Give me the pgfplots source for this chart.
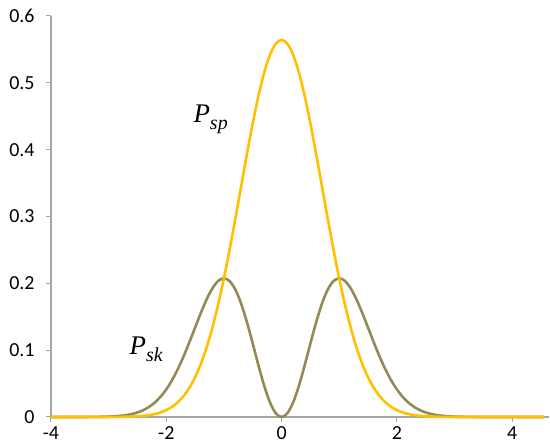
\documentclass[border=0pt]{standalone}
\usepackage{fontspec}
\setmainfont{Carlito}
\newfontfamily\lserif{Liberation Serif}
\usepackage{pgfplots}
\pgfplotsset{compat=1.18}
\definecolor{psp}{HTML}{FFC000}
\definecolor{psk}{HTML}{948A54}
\definecolor{axgray}{HTML}{A6A6A6}
\newcommand{\lab}[1]{{\lserif\itshape\fontsize{27}{32}\selectfont P\raisebox{-7bp}{\fontsize{20}{24}\selectfont #1}}}
\begin{document}
\begin{tikzpicture}
\begin{axis}[
  scale only axis,
  width=498bp, height=401bp,
  xmin=-4, xmax=4.64, ymin=0, ymax=0.6,
  axis x line=bottom, axis y line=left,
  axis line style={axgray, line width=1.2bp, -},
  xtick={-4,-2,0,2,4},
  ytick={0,0.1,0.2,0.3,0.4,0.5,0.6},
  yticklabels={0,0.1,0.2,0.3,0.4,0.5,0.6},
  xticklabels={-4,-2,0,2,4},
  tick align=outside,
  major tick length=5bp,
  tick style={axgray, line width=1bp},
  tick label style={font=\fontsize{20}{24}\selectfont, text=black},
  yticklabel style={xshift=-8bp},
  xticklabel style={yshift=-1bp},
  /pgf/number format/assume math mode=true,
  clip=false,
]
\addplot[psk, line width=2.6bp, smooth] coordinates {
(-4.0,0) (-3.5,0) (-3.2,0.0002) (-3.0,0.00063) (-2.9,0.00109) (-2.8,0.00172) (-2.7,0.00277) (-2.6,0.00439) (-2.5,0.00681)
(-2.4,0.01025) (-2.3,0.01502) (-2.2,0.02159) (-2.1,0.03025) (-2.0,0.04132) (-1.9,0.05509) (-1.8,0.07160) (-1.7,0.09063)
(-1.6,0.11164) (-1.5,0.13379) (-1.4,0.15576) (-1.3,0.17593) (-1.2,0.19248) (-1.1,0.20357) (-1.0,0.20755) (-0.9,0.20329)
(-0.8,0.19039) (-0.7,0.16936) (-0.6,0.14170) (-0.5,0.10985) (-0.4,0.07692) (-0.3,0.04641) (-0.2,0.02168) (-0.1,0.00559)
(0,0)
(0.1,0.00559) (0.2,0.02168) (0.3,0.04641) (0.4,0.07692) (0.5,0.10985) (0.6,0.14170) (0.7,0.16936) (0.8,0.19039)
(0.9,0.20329) (1.0,0.20755) (1.1,0.20357) (1.2,0.19248) (1.3,0.17593) (1.4,0.15576) (1.5,0.13379) (1.6,0.11164)
(1.7,0.09063) (1.8,0.07160) (1.9,0.05509) (2.0,0.04132) (2.1,0.03025) (2.2,0.02159) (2.3,0.01502) (2.4,0.01025)
(2.5,0.00681) (2.6,0.00439) (2.7,0.00277) (2.8,0.00172) (2.9,0.00109) (3.0,0.00063) (3.2,0.0002) (3.5,0) (4.0,0) (4.55,0)
};
\addplot[psp, line width=2.6bp, smooth] coordinates {
(-4.0,0) (-3.5,0) (-3.2,0.00002) (-3.0,0.00007) (-2.9,0.00013) (-2.8,0.00022) (-2.7,0.00038) (-2.6,0.00065) (-2.5,0.00109)
(-2.4,0.00178) (-2.3,0.00284) (-2.2,0.00446) (-2.1,0.00686) (-2.0,0.01033) (-1.9,0.01526) (-1.8,0.02210) (-1.7,0.03136)
(-1.6,0.04361) (-1.5,0.05946) (-1.4,0.07947) (-1.3,0.10410) (-1.2,0.13367) (-1.1,0.16824) (-1.0,0.20755) (-0.9,0.25098)
(-0.8,0.29749) (-0.7,0.34564) (-0.6,0.39362) (-0.5,0.43939) (-0.4,0.48077) (-0.3,0.51563) (-0.2,0.54207) (-0.1,0.55858)
(0,0.56419)
(0.1,0.55858) (0.2,0.54207) (0.3,0.51563) (0.4,0.48077) (0.5,0.43939) (0.6,0.39362) (0.7,0.34564) (0.8,0.29749)
(0.9,0.25098) (1.0,0.20755) (1.1,0.16824) (1.2,0.13367) (1.3,0.10410) (1.4,0.07947) (1.5,0.05946) (1.6,0.04361)
(1.7,0.03136) (1.8,0.02210) (1.9,0.01526) (2.0,0.01033) (2.1,0.00686) (2.2,0.00446) (2.3,0.00284) (2.4,0.00178)
(2.5,0.00109) (2.6,0.00065) (2.7,0.00038) (2.8,0.00022) (2.9,0.00013) (3.0,0.00007) (3.2,0.00002) (3.5,0) (4.0,0) (4.55,0)
};
\node[anchor=base west, inner sep=0pt] at (axis cs:-1.53,0.440) {\lab{sp}};
\node[anchor=base west, inner sep=0pt] at (axis cs:-2.64,0.093) {\lab{sk}};
\coordinate (bl) at (axis cs:-4,0);
\end{axis}
\pgfresetboundingbox
\path[use as bounding box] ([shift={(-51bp,-30bp)}]bl) rectangle ([shift={(499bp,417bp)}]bl);
\end{tikzpicture}
\end{document}
